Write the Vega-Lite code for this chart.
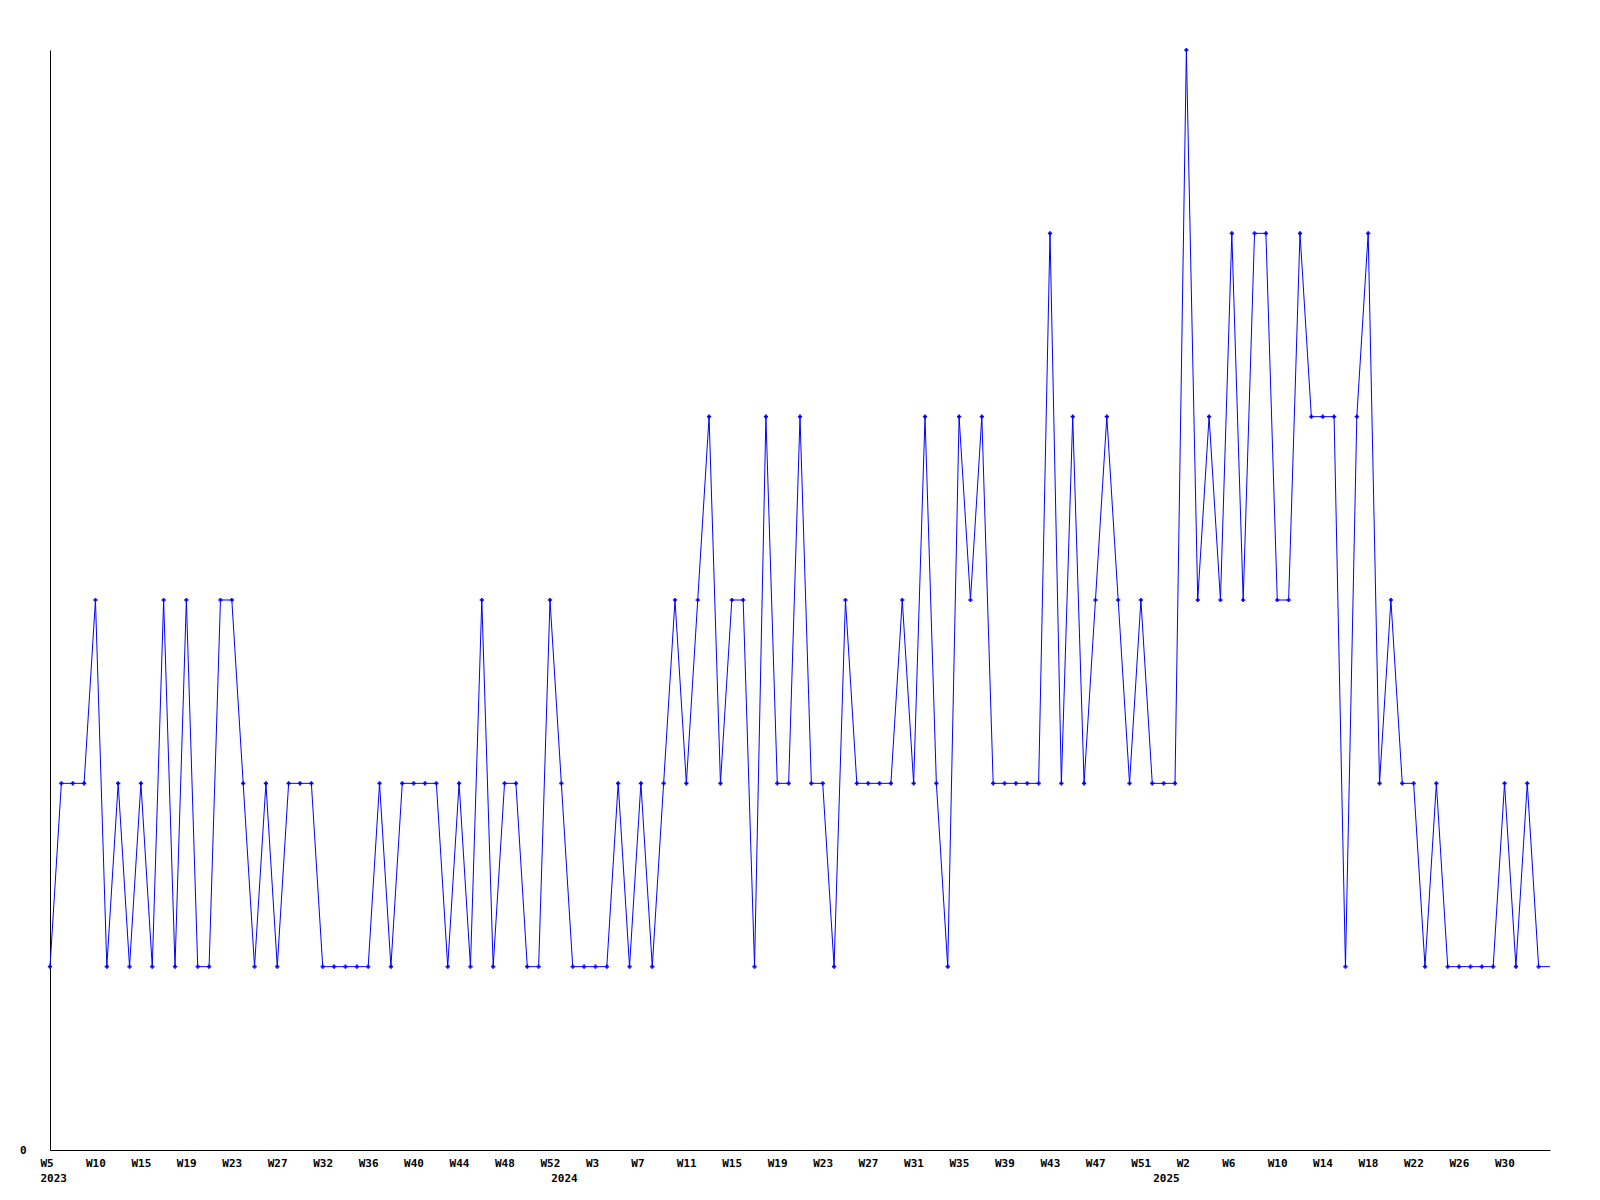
{
  "$schema": "https://vega.github.io/schema/vega-lite/v6.json",
  "width": 1500,
  "height": 1100,
  "autosize": {"type": "none"},
  "padding": {"left": 50, "top": 50, "right": 50, "bottom": 50},
  "background": "#ffffff",
  "config": {
    "view": {"stroke": null},
    "axis": {"labelFont": "DejaVu Sans Mono", "labelFontWeight": "bold", "labelFontSize": 11, "labelColor": "#000000", "domainColor": "#000000", "domainWidth": 1, "grid": false, "ticks": false, "title": null}
  },
  "data": {
    "values": [
      {"week": "2023-01-30", "v": 1}, {"week": "2023-02-06", "v": 2}, {"week": "2023-02-13", "v": 2}, {"week": "2023-02-20", "v": 2},
      {"week": "2023-02-27", "v": 3}, {"week": "2023-03-06", "v": 1}, {"week": "2023-03-13", "v": 2}, {"week": "2023-03-20", "v": 1},
      {"week": "2023-03-27", "v": 2}, {"week": "2023-04-03", "v": 1}, {"week": "2023-04-10", "v": 3}, {"week": "2023-04-17", "v": 1},
      {"week": "2023-04-24", "v": 3}, {"week": "2023-05-01", "v": 1}, {"week": "2023-05-08", "v": 1}, {"week": "2023-05-15", "v": 3},
      {"week": "2023-05-22", "v": 3}, {"week": "2023-05-29", "v": 2}, {"week": "2023-06-05", "v": 1}, {"week": "2023-06-12", "v": 2},
      {"week": "2023-06-19", "v": 1}, {"week": "2023-06-26", "v": 2}, {"week": "2023-07-03", "v": 2}, {"week": "2023-07-10", "v": 2},
      {"week": "2023-07-17", "v": 1}, {"week": "2023-07-24", "v": 1}, {"week": "2023-07-31", "v": 1}, {"week": "2023-08-07", "v": 1},
      {"week": "2023-08-14", "v": 1}, {"week": "2023-08-21", "v": 2}, {"week": "2023-08-28", "v": 1}, {"week": "2023-09-04", "v": 2},
      {"week": "2023-09-11", "v": 2}, {"week": "2023-09-18", "v": 2}, {"week": "2023-09-25", "v": 2}, {"week": "2023-10-02", "v": 1},
      {"week": "2023-10-09", "v": 2}, {"week": "2023-10-16", "v": 1}, {"week": "2023-10-23", "v": 3}, {"week": "2023-10-30", "v": 1},
      {"week": "2023-11-06", "v": 2}, {"week": "2023-11-13", "v": 2}, {"week": "2023-11-20", "v": 1}, {"week": "2023-11-27", "v": 1},
      {"week": "2023-12-04", "v": 3}, {"week": "2023-12-11", "v": 2}, {"week": "2023-12-18", "v": 1}, {"week": "2023-12-25", "v": 1},
      {"week": "2024-01-01", "v": 1}, {"week": "2024-01-08", "v": 1}, {"week": "2024-01-15", "v": 2}, {"week": "2024-01-22", "v": 1},
      {"week": "2024-01-29", "v": 2}, {"week": "2024-02-05", "v": 1}, {"week": "2024-02-12", "v": 2}, {"week": "2024-02-19", "v": 3},
      {"week": "2024-02-26", "v": 2}, {"week": "2024-03-04", "v": 3}, {"week": "2024-03-11", "v": 4}, {"week": "2024-03-18", "v": 2},
      {"week": "2024-03-25", "v": 3}, {"week": "2024-04-01", "v": 3}, {"week": "2024-04-08", "v": 1}, {"week": "2024-04-15", "v": 4},
      {"week": "2024-04-22", "v": 2}, {"week": "2024-04-29", "v": 2}, {"week": "2024-05-06", "v": 4}, {"week": "2024-05-13", "v": 2},
      {"week": "2024-05-20", "v": 2}, {"week": "2024-05-27", "v": 1}, {"week": "2024-06-03", "v": 3}, {"week": "2024-06-10", "v": 2},
      {"week": "2024-06-17", "v": 2}, {"week": "2024-06-24", "v": 2}, {"week": "2024-07-01", "v": 2}, {"week": "2024-07-08", "v": 3},
      {"week": "2024-07-15", "v": 2}, {"week": "2024-07-22", "v": 4}, {"week": "2024-07-29", "v": 2}, {"week": "2024-08-05", "v": 1},
      {"week": "2024-08-12", "v": 4}, {"week": "2024-08-19", "v": 3}, {"week": "2024-08-26", "v": 4}, {"week": "2024-09-02", "v": 2},
      {"week": "2024-09-09", "v": 2}, {"week": "2024-09-16", "v": 2}, {"week": "2024-09-23", "v": 2}, {"week": "2024-09-30", "v": 2},
      {"week": "2024-10-07", "v": 5}, {"week": "2024-10-14", "v": 2}, {"week": "2024-10-21", "v": 4}, {"week": "2024-10-28", "v": 2},
      {"week": "2024-11-04", "v": 3}, {"week": "2024-11-11", "v": 4}, {"week": "2024-11-18", "v": 3}, {"week": "2024-11-25", "v": 2},
      {"week": "2024-12-02", "v": 3}, {"week": "2024-12-09", "v": 2}, {"week": "2024-12-16", "v": 2}, {"week": "2024-12-23", "v": 2},
      {"week": "2024-12-30", "v": 6}, {"week": "2025-01-06", "v": 3}, {"week": "2025-01-13", "v": 4}, {"week": "2025-01-20", "v": 3},
      {"week": "2025-01-27", "v": 5}, {"week": "2025-02-03", "v": 3}, {"week": "2025-02-10", "v": 5}, {"week": "2025-02-17", "v": 5},
      {"week": "2025-02-24", "v": 3}, {"week": "2025-03-03", "v": 3}, {"week": "2025-03-10", "v": 5}, {"week": "2025-03-17", "v": 4},
      {"week": "2025-03-24", "v": 4}, {"week": "2025-03-31", "v": 4}, {"week": "2025-04-07", "v": 1}, {"week": "2025-04-14", "v": 4},
      {"week": "2025-04-21", "v": 5}, {"week": "2025-04-28", "v": 2}, {"week": "2025-05-05", "v": 3}, {"week": "2025-05-12", "v": 2},
      {"week": "2025-05-19", "v": 2}, {"week": "2025-05-26", "v": 1}, {"week": "2025-06-02", "v": 2}, {"week": "2025-06-09", "v": 1},
      {"week": "2025-06-16", "v": 1}, {"week": "2025-06-23", "v": 1}, {"week": "2025-06-30", "v": 1}, {"week": "2025-07-07", "v": 1},
      {"week": "2025-07-14", "v": 2}, {"week": "2025-07-21", "v": 1}, {"week": "2025-07-28", "v": 2}, {"week": "2025-08-04", "v": 1},
      {"week": "2025-08-11", "v": 1}
    ]
  },
  "encoding": {
    "x": {
      "field": "week",
      "type": "temporal",
      "scale": {"type": "utc", "nice": false, "domain": [1675036800000, 1754870400000]},
      "axis": {
        "values": [1675090022400, 1677508980480, 1679927938560, 1682346896640, 1684765854720, 1687184812800, 1689603770880, 1692022728960, 1694441687040, 1696860645120, 1699279603200, 1701698561280, 1702270702080, 1704117519360, 1706536477440, 1708955435520, 1711374393600, 1713793351680, 1716212309760, 1718631267840, 1721050225920, 1723469184000, 1725888142080, 1728307100160, 1730726058240, 1733145016320, 1734310586880, 1735563974400, 1737982932480, 1740401890560, 1742820848640, 1745239806720, 1747658764800, 1750077722880, 1752496680960],
        "labelExpr": "time(datum.value) == 1702270702080 ? ['', '2024'] : time(datum.value) == 1734310586880 ? ['', '2025'] : [['W5','2023'],'W10','W15','W19','W23','W27','W32','W36','W40','W44','W48','W52','W3','W7','W11','W15','W19','W23','W27','W31','W35','W39','W43','W47','W51','W2','W6','W10','W14','W18','W22','W26','W30'][round((time(datum.value) - 1675090022400) / 2418958080)]",
        "labelAlign": "left",
        "labelBaseline": "top",
        "labelOffset": -11,
        "labelPadding": 7,
        "labelLineHeight": 15,
        "labelOverlap": false,
        "labelBound": false,
        "labelFlush": false
      }
    },
    "y": {
      "field": "v",
      "type": "quantitative",
      "scale": {"domain": [0, 6], "nice": false, "zero": true},
      "axis": {"values": [0], "labelPadding": 24, "labelBaseline": "middle"}
    }
  },
  "layer": [
    {"mark": {"type": "line", "color": "#0000ff", "strokeWidth": 1, "interpolate": "linear"}},
    {
      "transform": [{"filter": "time(datum.week) < 1754870400000"}],
      "mark": {"type": "point", "shape": "cross", "filled": true, "size": 18, "color": "#0000ff", "opacity": 1}
    }
  ]
}
